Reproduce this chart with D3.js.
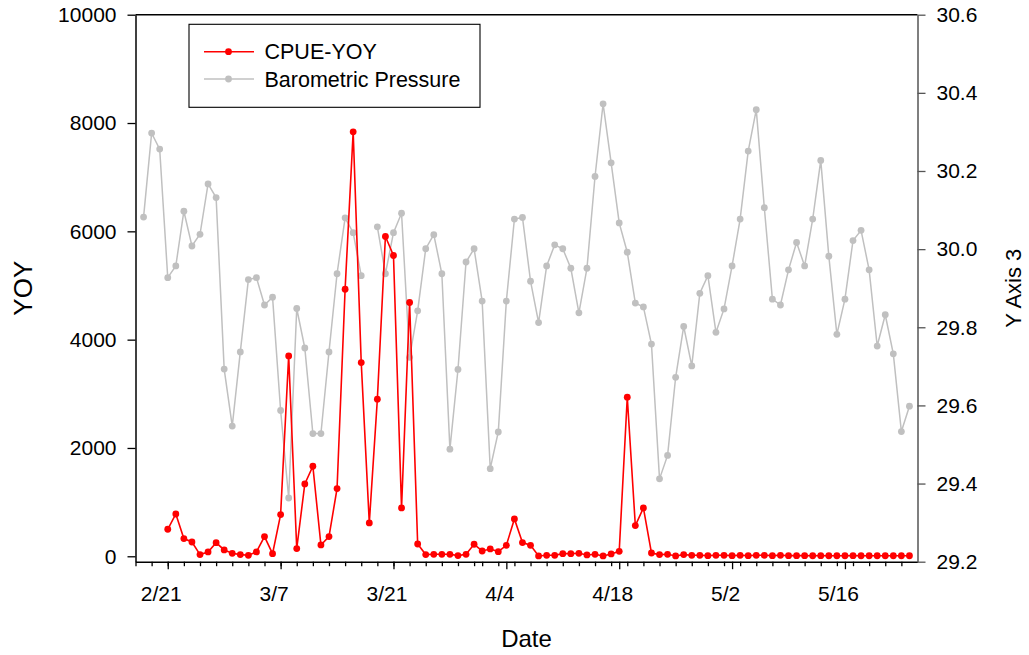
<!DOCTYPE html>
<html>
<head>
<meta charset="utf-8">
<script src="https://cdn.jsdelivr.net/npm/d3@7"></script>
<style>
  body { margin: 0; background: #fff; }
  svg text { font-family: "Liberation Sans", Arial, sans-serif; fill: #000; }
</style>
</head>
<body>
<div id="chart"></div>
<script>
// CPUE-YOY vs barometric pressure, daily

// first and last sampled day (non-leap year, so 2/21 + 14 days = 3/7)
const firstDay = "2019-02-18",
      lastDay = "2019-05-24";

// barometric pressure, one value per day from 2/18 (null = no reading)
const pressure = [
  30.082, 30.297, 30.256, 29.927, 29.957, 30.097, 30.008, 30.038, 30.167, 30.132,
  29.693, 29.547, 29.737, 29.922, 29.927, 29.857, 29.877, 29.587, 29.363, 29.848,
  29.747, 29.528, 29.528, 29.737, 29.937, 30.080, 30.042, 29.932, null,   30.057,
  29.937, 30.042, 30.092, 29.723, 29.842, 30.001, 30.037, 29.937, 29.488, 29.692,
  29.967, 30.001, 29.867, 29.438, 29.532, 29.867, 30.077, 30.081, 29.918, 29.812,
  29.957, 30.011, 30.001, 29.951, 29.837, 29.951, 30.186, 30.372, 30.221, 30.067,
  29.992, 29.862, 29.852, 29.757, 29.412, 29.472, 29.672, 29.802, 29.701, 29.887,
  29.932, 29.787, 29.847, 29.957, 30.077, 30.251, 30.357, 30.106, 29.872, 29.857,
  29.947, 30.017, 29.957, 30.077, 30.227, 29.982, 29.782, 29.872, 30.022, 30.048,
  29.947, 29.752, 29.832, 29.732, 29.533, 29.598
];

// CPUE-YOY, one value per day; first three days have no catch data
const cpue = [
  null, null, null,
  499, 781, 327, 264, 31, 80, 252, 117, 55, 31,
  18, 80, 363, 49, 770, 3700, 142, 1336, 1662, 209,
  363, 1250, 4931, 7837, 3577, 616, 2900, 5905, 5554, 892,
  4686, 227, 31, 37, 37, 37, 13, 37, 222, 98,
  135, 86, 203, 689, 253, 203, 6, 18, 18, 49,
  49, 55, 25, 37, 6, 43, 92, 2937, 567, 892,
  61, 31, 37, 6, 31, 18, 18, 12, 18, 18,
  12, 18, 12, 18, 18, 12, 18, 12, 12, 12,
  10, 12, 10, 10, 10, 12, 10, 10, 10, 10,
  10, 10, 10, 10
];

const leftTicks = [0, 2000, 4000, 6000, 8000, 10000];
const rightTicks = [29.2, 29.4, 29.6, 29.8, 30.0, 30.2, 30.4, 30.6];
const dateLabels = ["2/21", "3/7", "3/21", "4/4", "4/18", "5/2", "5/16"];

const parseDay = d3.timeParse("%Y-%m-%d");
const days = d3.timeDay.range(parseDay(firstDay), d3.timeDay.offset(parseDay(lastDay), 1));

// set the dimensions and margins of the graph
const margin = {top: 14.7, right: 111.5, bottom: 93.3, left: 135.5},
    width = 1029 - margin.left - margin.right,
    height = 655 - margin.top - margin.bottom;

const svg = d3.select("#chart")
  .append("svg")
    .attr("width", width + margin.left + margin.right)
    .attr("height", height + margin.top + margin.bottom)
  .append("g")
    .attr("transform", "translate(" + margin.left + "," + margin.top + ")");

// scales
const x = d3.scaleTime()
  .domain([parseDay("2019-02-17"), parseDay("2019-05-25")])
  .range([0, width]);
const yL = d3.scaleLinear().domain([-100, 10000]).range([height, 0]);
const yR = d3.scaleLinear().domain([29.2, 30.6]).range([height, 0]);

const fmtMD = d3.timeFormat("%-m/%-d");
const majorDays = days.filter(d => dateLabels.includes(fmtMD(d)));
const minorDays = d3.timeDay.every(2).range(parseDay("2019-02-17"), parseDay("2019-05-25"));

// top frame line
svg.append("line")
  .attr("x1", 0).attr("x2", width)
  .attr("y1", 0).attr("y2", 0)
  .attr("stroke", "#000").attr("stroke-width", 1.4);

// bottom axis, minor ticks then labelled major ticks
svg.append("g")
  .attr("transform", "translate(0," + height + ")")
  .call(d3.axisBottom(x).tickValues(minorDays).tickSize(4.5).tickSizeOuter(0).tickFormat(""))
  .call(g => g.select(".domain").remove());
const xAxis = svg.append("g")
  .attr("transform", "translate(0," + height + ")")
  .call(d3.axisBottom(x).tickValues(majorDays).tickSize(7.5).tickSizeOuter(0)
    .tickPadding(17).tickFormat(fmtMD));
// labels sit a little left of their ticks in the original
xAxis.selectAll(".tick text").attr("dx", -7);

// left axis
const yAxisL = svg.append("g")
  .call(d3.axisLeft(yL).tickValues(leftTicks).tickSize(8).tickSizeOuter(0)
    .tickPadding(11).tickFormat(d3.format("d")));

// right axis
const yAxisR = svg.append("g")
  .attr("transform", "translate(" + width + ",0)")
  .call(d3.axisRight(yR).tickValues(rightTicks).tickSize(8).tickSizeOuter(0)
    .tickPadding(11).tickFormat(d3.format(".1f")));

svg.selectAll(".domain").attr("stroke", "#000").attr("stroke-width", 1.5);
svg.selectAll(".tick line").attr("stroke", "#000").attr("stroke-width", 1.3);
yAxisR.select(".domain").attr("stroke", "#555");
yAxisR.selectAll(".tick line").attr("stroke", "#555");
svg.selectAll(".tick text").style("font-size", "21px").attr("fill", "#000");

// series
const pressData = days.map((d, i) => ({date: d, v: pressure[i]}));
const cpueData = days.map((d, i) => ({date: d, v: cpue[i]}));

const linePress = d3.line()
  .defined(d => d.v != null)
  .x(d => x(d.date)).y(d => yR(d.v));
const lineCpue = d3.line()
  .defined(d => d.v != null)
  .x(d => x(d.date)).y(d => yL(d.v));

svg.append("path")
  .datum(pressData)
  .attr("fill", "none")
  .attr("stroke", "#c0c0c0")
  .attr("stroke-width", 1.5)
  .attr("d", linePress);
svg.selectAll(".pdot")
  .data(pressData.filter(d => d.v != null))
  .enter().append("circle")
    .attr("class", "pdot")
    .attr("cx", d => x(d.date))
    .attr("cy", d => yR(d.v))
    .attr("r", 3.4)
    .attr("fill", "#c0c0c0");

svg.append("path")
  .datum(cpueData)
  .attr("fill", "none")
  .attr("stroke", "#ff0000")
  .attr("stroke-width", 1.6)
  .attr("d", lineCpue);
svg.selectAll(".cdot")
  .data(cpueData.filter(d => d.v != null))
  .enter().append("circle")
    .attr("class", "cdot")
    .attr("cx", d => x(d.date))
    .attr("cy", d => yL(d.v))
    .attr("r", 3.4)
    .attr("fill", "#ff0000");

// axis titles
svg.append("text")
  .attr("x", width / 2).attr("y", 632)
  .attr("text-anchor", "middle")
  .style("font-size", "24px")
  .text("Date");
svg.append("text")
  .attr("transform", "translate(" + (31.5 - margin.left) + "," + (height / 2) + ") rotate(-90)")
  .attr("text-anchor", "middle")
  .style("font-size", "26px")
  .text("YOY");
svg.append("text")
  .attr("transform", "translate(" + (1020.5 - margin.left) + "," + (height / 2) + ") rotate(-90)")
  .attr("text-anchor", "middle")
  .style("font-size", "22px")
  .text("Y Axis 3");

// legend
const legend = svg.append("g").attr("transform", "translate(" + (189 - margin.left) + "," + (24.3 - margin.top) + ")");
legend.append("rect")
  .attr("width", 291).attr("height", 83)
  .attr("fill", "#fff").attr("stroke", "#000").attr("stroke-width", 1.1);
const legendItems = [
  {name: "CPUE-YOY", color: "#ff0000"},
  {name: "Barometric Pressure", color: "#c0c0c0"}
];
legendItems.forEach((item, i) => {
  const row = 27.4 + i * 27.3;
  legend.append("line")
    .attr("x1", 15).attr("x2", 65).attr("y1", row).attr("y2", row)
    .attr("stroke", item.color).attr("stroke-width", 1.6);
  legend.append("circle")
    .attr("cx", 39.5).attr("cy", row).attr("r", 3.4).attr("fill", item.color);
  legend.append("text")
    .attr("x", 75.5).attr("y", row + 7.8)
    .style("font-size", "21.5px")
    .text(item.name);
});
</script>
</body>
</html>
